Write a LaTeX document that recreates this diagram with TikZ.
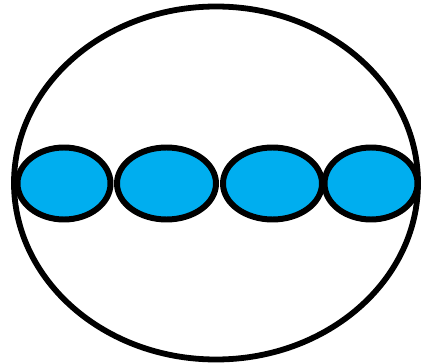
\documentclass[tikz,border=0pt]{standalone}
\usepackage{tikz}
\usetikzlibrary{shapes.geometric}
\definecolor{cellblue}{RGB}{0,174,239}

\begin{document}
\begin{tikzpicture}[
  outer/.style={draw,ellipse,line width=3.3pt,inner sep=0pt,minimum width=8.08cm,minimum height=7.06cm},
  cell/.style={draw,ellipse,fill=cellblue,line width=3.4pt,inner sep=0pt,minimum height=1.44cm}]
\useasboundingbox (0,0) rectangle (8.46,-7.28);
\node[outer] (O) at (4.32,-3.66) {};
\node[cell,minimum width=1.86cm] (C1) at (1.28,-3.67) {};
\node[cell,minimum width=1.98cm] (C2) at (3.33,-3.67) {};
\node[cell,minimum width=1.98cm] (C3) at (5.45,-3.67) {};
\node[cell,minimum width=1.86cm] (C4) at (7.42,-3.67) {};
\end{tikzpicture}
\end{document}
